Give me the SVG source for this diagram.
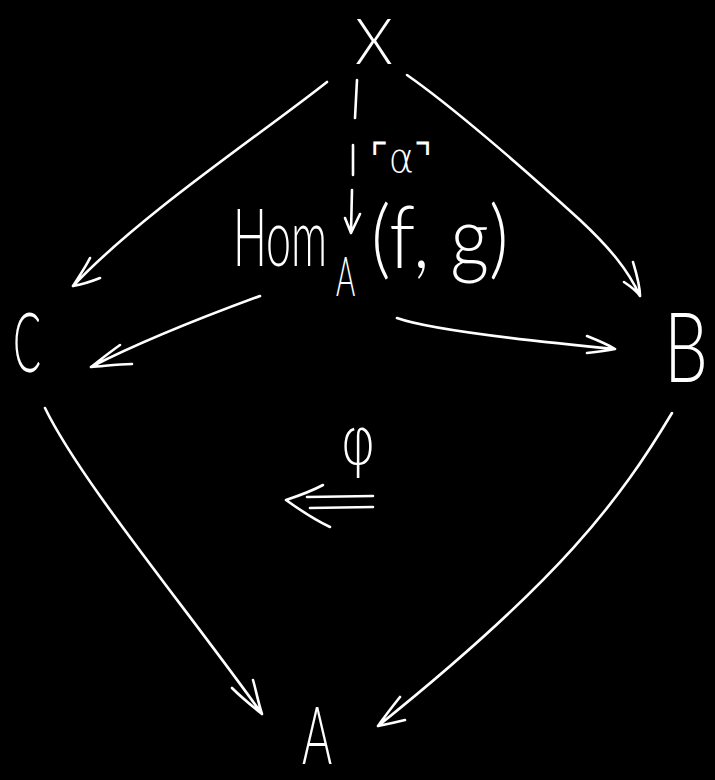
<svg xmlns="http://www.w3.org/2000/svg" width="715" height="780" viewBox="0 0 715 780">
<style>
.bg{fill:#000}
.lbl{fill:#fff;font-family:"Lato","Roboto","Inter","Liberation Sans",sans-serif;font-weight:300}
.sym{fill:#fff;font-family:"DejaVu Sans","Liberation Sans",sans-serif;font-weight:200}
.ln{fill:none;stroke:#fff;stroke-width:2.6;stroke-linecap:round;stroke-linejoin:round}
</style>
<rect class="bg" x="0" y="0" width="715" height="780"/>
<g id="node-X"><text class="lbl" transform="translate(355,64) scale(0.9,1)" font-size="64" textLength="42" lengthAdjust="spacingAndGlyphs">X</text></g>
<g id="node-C"><text class="lbl" transform="translate(13,372) scale(0.5,1)" font-size="82" textLength="56" lengthAdjust="spacingAndGlyphs">C</text></g>
<g id="node-B"><text class="lbl" transform="translate(664,382) scale(0.72,1)" font-size="96" textLength="61" lengthAdjust="spacingAndGlyphs">B</text></g>
<g id="node-A"><text class="lbl" transform="translate(302,764) scale(0.58,1)" font-size="80" textLength="52" lengthAdjust="spacingAndGlyphs">A</text></g>
<g id="node-Hom">
<text class="lbl" transform="translate(233,266) scale(0.6,1)" font-size="80" textLength="157" lengthAdjust="spacingAndGlyphs">Hom</text>
<text class="lbl" transform="translate(336,296) scale(0.55,1)" font-size="56" textLength="35" lengthAdjust="spacingAndGlyphs">A</text>
<text class="lbl" transform="translate(371,268) scale(0.8,1)" font-size="86" textLength="172" lengthAdjust="spacingAndGlyphs">(f, g)</text>
</g>
<g id="label-alpha"><text class="sym" transform="translate(370,172) scale(0.78,1)" font-size="40" textLength="80" lengthAdjust="spacingAndGlyphs">⌜α⌝</text></g>
<g id="label-phi"><text class="sym" x="340" y="464" font-size="66" textLength="36" lengthAdjust="spacingAndGlyphs">φ</text></g>
<g id="connectors">
<path class="ln" d="M327,82 C260,135 140,215 73,286 M90,258 C85,268 78,278 73,286 C85,284 95,280 100,278"/>
<path class="ln" d="M407,75 C450,105 520,165 580,220 C610,248 628,270 640,296 M624,282 C630,286 636,290 640,296 C640,285 636,272 633,262"/>
<path class="ln" d="M357,80 L355,118 M353,145 L353,175 M352,190 L351,232 M345,218 L351,233 L360,214"/>
<path class="ln" d="M260,296 C200,318 140,342 91,367 M120,345 C110,352 100,360 91,367 C105,366 118,364 132,364"/>
<path class="ln" d="M397,318 C430,330 520,340 615,349 M587,336 C597,340 607,344 615,349 C605,351 596,352 587,353"/>
<path class="ln" d="M45,408 C80,480 180,600 262,714 M232,688 C242,698 252,706 262,714 C258,702 256,690 253,680"/>
<path class="ln" d="M672,413 C620,500 560,580 378,726 M400,697 C392,707 385,716 378,726 C388,724 397,722 405,720"/>
<path class="ln" d="M307,497 L373,496 M310,508 L373,507 M323,485 C310,492 298,496 286,500 C300,510 315,520 330,527"/>
</g>
</svg>
